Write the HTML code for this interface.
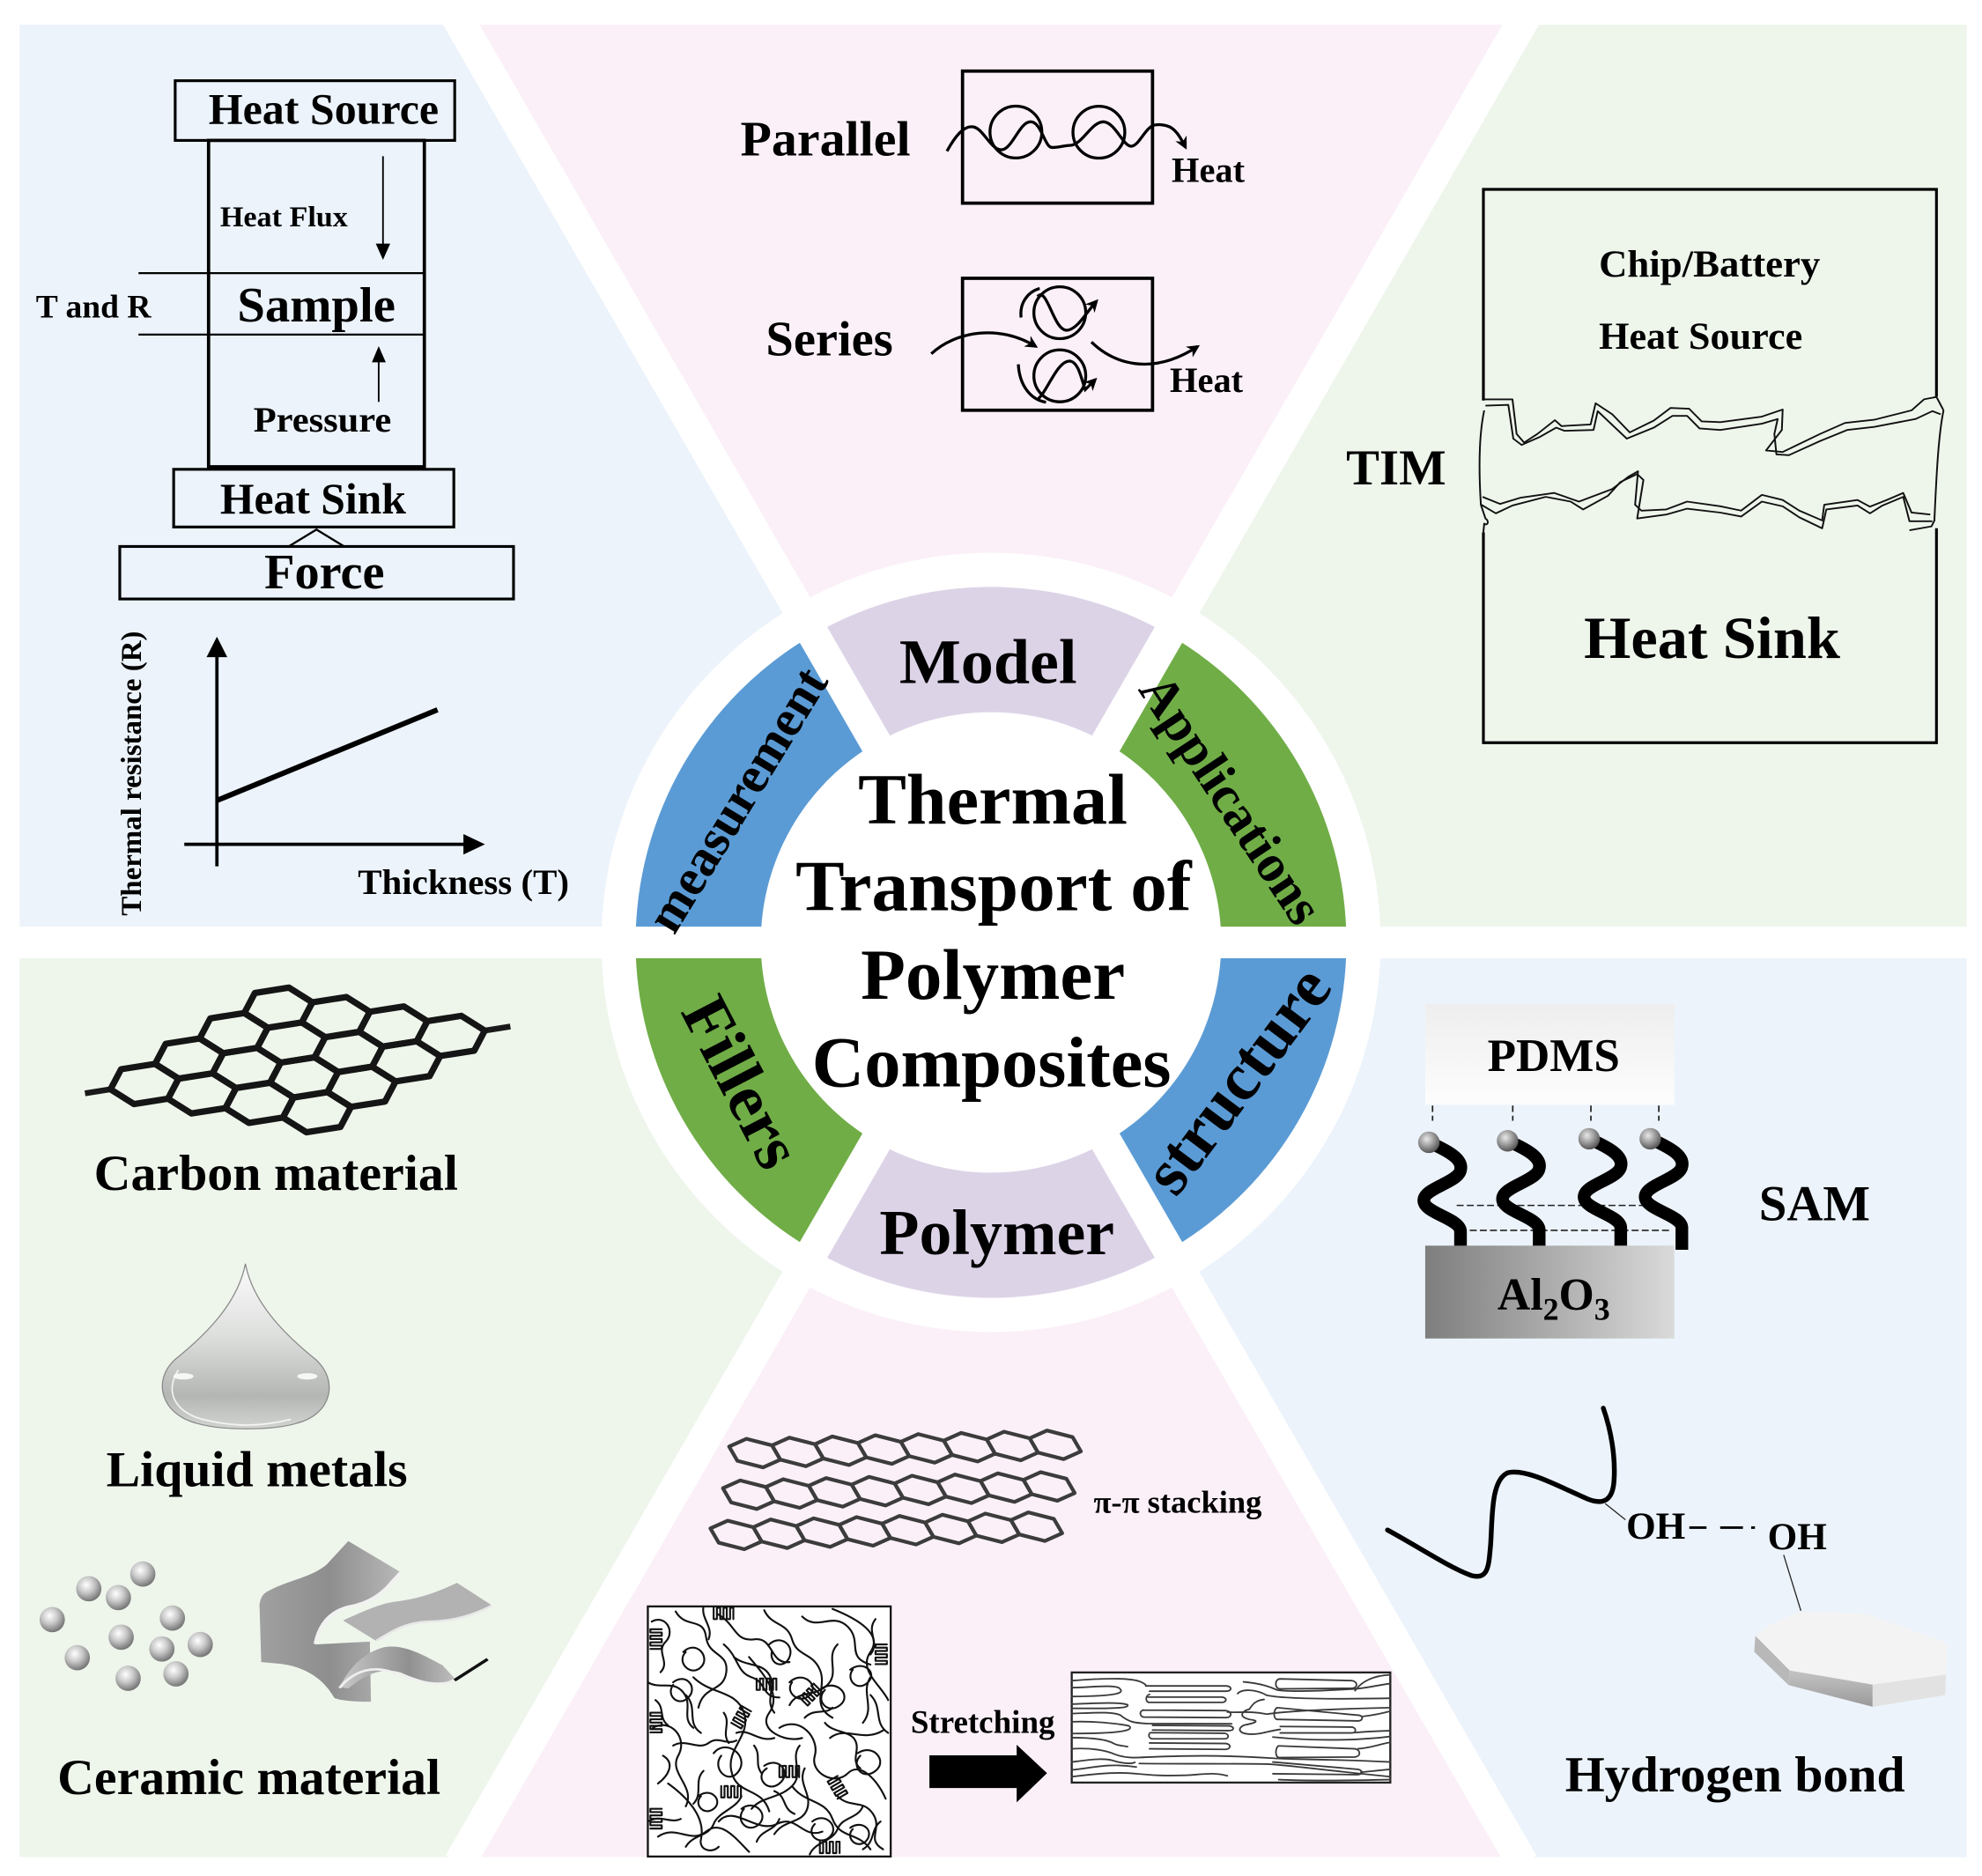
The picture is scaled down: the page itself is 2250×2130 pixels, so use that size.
<!DOCTYPE html>
<html><head><meta charset="utf-8">
<style>
html,body{margin:0;padding:0;background:#fff;width:2250px;height:2130px;overflow:hidden;}
svg{display:block;}
text{font-family:"Liberation Serif","Times New Roman",serif;font-weight:bold;fill:#000;}
</style></head><body>
<svg xmlns="http://www.w3.org/2000/svg" xmlns:xlink="http://www.w3.org/1999/xlink" width="2250" height="2130" viewBox="0 0 1567 1483" preserveAspectRatio="none" overflow="hidden">
<defs>
 <clipPath id="tbox"><rect x="0" y="0" width="192" height="197.7"/></clipPath>
 <marker id="arr" viewBox="0 0 10 10" refX="8" refY="5" markerWidth="10" markerHeight="10" markerUnits="userSpaceOnUse" orient="auto"><path d="M0,0 L10,5 L0,10 L3,5 Z" fill="#000"/></marker>
 <path id="hex" d="M1,0 L0.5,0.866 L-0.5,0.866 L-1,0 L-0.5,-0.866 L0.5,-0.866 Z" vector-effect="non-scaling-stroke"/>
 <path id="phex" d="M0,-1 L0.866,-0.5 L0.866,0.5 L0,1 L-0.866,0.5 L-0.866,-0.5 Z" vector-effect="non-scaling-stroke"/>
 <path id="comb" d="M0,0 v9 h2.6 v-9 h2.6 v9 h2.6 v-9 h2.6 v9 h2.6 v-9 h2.6 v9"/>
 <radialGradient id="sph" cx="0.4" cy="0.35" r="0.7"><stop offset="0" stop-color="#ffffff"/><stop offset="0.45" stop-color="#c8c8c8"/><stop offset="1" stop-color="#6a6a6a"/></radialGradient>
 <radialGradient id="ball" cx="0.4" cy="0.35" r="0.7"><stop offset="0" stop-color="#e8e8e8"/><stop offset="0.5" stop-color="#9a9a9a"/><stop offset="1" stop-color="#4a4a4a"/></radialGradient>
 <linearGradient id="drop" x1="0" y1="0" x2="0" y2="1"><stop offset="0" stop-color="#fbfbfb"/><stop offset="0.45" stop-color="#dcdedc"/><stop offset="0.8" stop-color="#b4b6b4"/><stop offset="1" stop-color="#d2d4d2"/></linearGradient>
 <linearGradient id="pdms" x1="0" y1="0" x2="0" y2="1"><stop offset="0" stop-color="#eeeeee"/><stop offset="1" stop-color="#fdfdfd"/></linearGradient>
 <linearGradient id="al" x1="0" y1="0" x2="1" y2="0"><stop offset="0" stop-color="#7e7e7e"/><stop offset="1" stop-color="#dadada"/></linearGradient>
 <linearGradient id="sheet" x1="0" y1="0" x2="1" y2="0"><stop offset="0" stop-color="#a0a0a0"/><stop offset="0.5" stop-color="#8e8e8e"/><stop offset="1" stop-color="#b8b8b8"/></linearGradient>
 <linearGradient id="sheet2" x1="0" y1="0" x2="1" y2="0"><stop offset="0" stop-color="#c8c8c8"/><stop offset="0.6" stop-color="#909090"/><stop offset="1" stop-color="#bdbdbd"/></linearGradient>
 <linearGradient id="side" x1="0" y1="0" x2="0" y2="1"><stop offset="0" stop-color="#c4c4c4"/><stop offset="1" stop-color="#9a9a9a"/></linearGradient>
</defs>

<rect x="0" y="0" width="1567" height="1483" fill="#ffffff"/>

<!-- background panels -->
<polygon points="783.5,745 15.5,745 15.5,19.5 364.6,19.5" fill="#ecf3fb"/>
<polygon points="783.5,745 364.6,19.5 1202.4,19.5" fill="#fbf0f8"/>
<polygon points="783.5,745 1202.4,19.5 1555,19.5 1555,745" fill="#eef6ec"/>
<polygon points="783.5,745 1555,745 1555,1468 1200.9,1468" fill="#ecf3fb"/>
<polygon points="783.5,745 1200.9,1468 366.1,1468" fill="#fbf0f8"/>
<polygon points="783.5,745 366.1,1468 15.5,1468 15.5,745" fill="#eef6ec"/>

<!-- white disk and ring -->
<circle cx="783.5" cy="745" r="308" fill="#ffffff"/>
<path d="M1064.5,745 A281,281 0 0 0 924,501.65 L874.5,587.38 A182,182 0 0 1 965.5,745 Z" fill="#70ad47"/>
<path d="M924,501.65 A281,281 0 0 0 643,501.65 L692.5,587.38 A182,182 0 0 1 874.5,587.38 Z" fill="#ddd3e7"/>
<path d="M643,501.65 A281,281 0 0 0 502.5,745 L601.5,745 A182,182 0 0 1 692.5,587.38 Z" fill="#5b9bd5"/>
<path d="M502.5,745 A281,281 0 0 0 643,988.35 L692.5,902.62 A182,182 0 0 1 601.5,745 Z" fill="#70ad47"/>
<path d="M643,988.35 A281,281 0 0 0 924,988.35 L874.5,902.62 A182,182 0 0 1 692.5,902.62 Z" fill="#ddd3e7"/>
<path d="M924,988.35 A281,281 0 0 0 1064.5,745 L965.5,745 A182,182 0 0 1 874.5,902.62 Z" fill="#5b9bd5"/>

<!-- white stripes -->
<g stroke="#ffffff" stroke-width="25">
 <line x1="5" y1="745" x2="1562" y2="745"/>
 <line x1="363.2" y1="1473" x2="1207.8" y2="10"/>
 <line x1="1203.8" y1="1473" x2="359.2" y2="10"/>
</g>

<!-- ===== TOP LEFT: measurement ===== -->
<g fill="none" stroke="#000">
 <rect x="138.5" y="63.8" width="221" height="47.2" stroke-width="2.2"/>
 <rect x="164.9" y="111" width="170.6" height="258" stroke-width="2.6"/>
 <line x1="109.5" y1="215.9" x2="335.5" y2="215.9" stroke-width="1.6"/>
 <line x1="109.5" y1="264.5" x2="335.5" y2="264.5" stroke-width="1.6"/>
 <rect x="137.3" y="371" width="221.5" height="45.6" stroke-width="2.2"/>
 <rect x="94.7" y="432" width="311.3" height="41.5" stroke-width="2.2"/>
 <line x1="302.8" y1="123.5" x2="302.8" y2="194" stroke-width="1.3"/>
 <line x1="299.4" y1="285" x2="299.4" y2="317.7" stroke-width="1.3"/>
 <line x1="171.5" y1="518" x2="171.5" y2="684.8" stroke-width="2.6"/>
 <line x1="145.7" y1="667.4" x2="367" y2="667.4" stroke-width="2.6"/>
 <line x1="171.5" y1="632.8" x2="345.9" y2="561.1" stroke-width="4.2"/>
</g>
<polyline points="228.9,431.6 250.2,418.6 271.5,431.6" fill="none" stroke="#000" stroke-width="1.6"/>
<polygon points="297.1,192.6 308.5,192.6 302.8,205.4" fill="#000"/>
<polygon points="294,286.4 305,286.4 299.4,273.6" fill="#000"/>
<polygon points="163.3,519.5 179.7,519.5 171.5,503.3" fill="#000"/>
<polygon points="366.4,659.3 366.4,675.5 383.4,667.4" fill="#000"/>
<text x="164.9" y="97.9" font-size="35" textLength="182" lengthAdjust="spacingAndGlyphs">Heat Source</text>
<text x="174" y="179" font-size="23" textLength="101" lengthAdjust="spacingAndGlyphs">Heat Flux</text>
<text x="187.6" y="254.3" font-size="39" textLength="125" lengthAdjust="spacingAndGlyphs">Sample</text>
<text x="28.4" y="250.9" font-size="26" textLength="91" lengthAdjust="spacingAndGlyphs">T and R</text>
<text x="200.4" y="341" font-size="28" textLength="109" lengthAdjust="spacingAndGlyphs">Pressure</text>
<text x="174" y="405.8" font-size="35" textLength="147" lengthAdjust="spacingAndGlyphs">Heat Sink</text>
<text x="209" y="465" font-size="39" textLength="95" lengthAdjust="spacingAndGlyphs">Force</text>
<text x="282.9" y="706.8" font-size="28" textLength="167" lengthAdjust="spacingAndGlyphs">Thickness (T)</text>
<text transform="translate(111.5,611.4) rotate(-90)" text-anchor="middle" font-size="23" textLength="225" lengthAdjust="spacingAndGlyphs">Thermal resistance (R)</text>

<!-- ===== TOP MIDDLE: model ===== -->
<g fill="none" stroke="#000" stroke-width="2.6">
 <rect x="761" y="56.2" width="150.2" height="104.4"/>
 <rect x="761" y="220" width="150.2" height="104.3"/>
</g>
<g fill="none" stroke="#000" stroke-width="2.3">
 <circle cx="803.2" cy="104.4" r="20.5"/>
 <circle cx="868.8" cy="104.5" r="20.5"/>
 <path d="M748.7,119.5 C755,108 762,99 769.3,100.3 C777,101 783,118 791.4,118.4 C800,119 806,96 814.8,96.3 C823,96 826,116 831.3,116.5 C836,117 841,115 846.4,114.9 C856,114 863,96 872.6,96.3 C882,97 888,116 894.6,115.6 C901,115 906,99 913.9,98.7 C918,98 920,99 922.2,99.4 C929,101 933,108 937.3,116.5" marker-end="url(#arr)"/>
 <circle cx="837.9" cy="247.2" r="20.5"/>
 <circle cx="837.9" cy="297.1" r="20.5"/>
 <path d="M820.3,234.4 C828,226 833,262 843.7,261.1 C852,260 858,248 867,238" marker-end="url(#arr)"/>
 <path d="M807.3,251 C806,240 812,231 822,228"/>
 <path d="M805.1,288 C806,305 815,316 827,318"/>
 <path d="M820.3,315.7 C828,310 836,284 846.4,285.5 C853,287 855,300 858,308 L866,300" marker-end="url(#arr)"/>
 <path d="M736.3,279.7 C755,262 790,256 818.9,273.9" marker-end="url(#arr)"/>
 <path d="M862.9,270.4 C880,287 910,298 946.9,273.9" marker-end="url(#arr)"/>
</g>
<text x="585.4" y="123" font-size="39" textLength="134.4" lengthAdjust="spacingAndGlyphs">Parallel</text>
<text x="926.3" y="143.9" font-size="28" textLength="57.8" lengthAdjust="spacingAndGlyphs">Heat</text>
<text x="605.5" y="280.9" font-size="39" textLength="100.5" lengthAdjust="spacingAndGlyphs">Series</text>
<text x="924.9" y="309.9" font-size="28" textLength="57.9" lengthAdjust="spacingAndGlyphs">Heat</text>

<!-- ===== TOP RIGHT: applications ===== -->
<path d="M1172.8,316.6 L1172.8,149.7 L1531,149.7 L1531,313.5 M1172.8,420.8 L1172.8,587.1 L1531,587.1 L1531,417.6" fill="none" stroke="#000" stroke-width="2.2"/>
<g transform="translate(1044.6,125.4) scale(0.32866,0.3109)" fill="none" stroke="#111" stroke-width="4.2" stroke-linejoin="round">
 <path d="M392,612 L460,612 L470,700 L488,722 L520,700 L562,665 L578,680 L648,676 L660,622 L700,650 L742,696 L800,666 L840,634 L885,636 L915,668 L960,670 L1060,656 L1110,638 L1108,690 L1070,742 L1110,746 L1200,700 L1260,672 L1330,664 L1420,640 L1450,612 L1480,606 L1497,640"/>
 <path d="M395,628 L450,626 L462,712 L482,728 L525,708 L565,684 L585,692 L655,690 L665,642 L735,712 L800,684 L845,654 L880,654 L910,686 L960,690 L1060,674 L1098,662 L1090,700 L1095,752 L1125,754 L1200,718 L1265,690 L1330,682 L1430,662 L1470,642 L1490,650"/>
 <path d="M385,880 L420,902 L460,882 L540,860 L600,872 L630,892 L690,857 L720,822 L760,802 L775,817 L760,915 L830,905 L880,890 L960,900 L1010,910 L1060,872 L1110,884 L1150,912 L1205,940 L1215,892 L1290,882 L1320,902 L1350,882 L1400,860 L1415,922 L1470,922"/>
 <path d="M388,860 L430,878 L480,862 L560,850 L620,872 L700,840 L740,808 L762,795 L755,880 L770,895 L830,892 L880,872 L960,884 L1010,895 L1060,855 L1110,868 L1150,895 L1205,920 L1210,880 L1290,868 L1320,885 L1360,868 L1400,850 L1420,900 L1465,905"/>
 <path d="M392,640 C380,700 378,780 384,880 L395,915 C405,922 400,935 392,928 L390,950"/>
 <path d="M1497,640 C1485,700 1480,800 1475,920 L1468,935 L1415,945"/>
</g>
<text x="1264.1" y="218.7" font-size="30" textLength="175" lengthAdjust="spacingAndGlyphs">Chip/Battery</text>
<text x="1264.1" y="275.6" font-size="30" textLength="161" lengthAdjust="spacingAndGlyphs">Heat Source</text>
<text x="1252.3" y="520.2" font-size="47" textLength="202.5" lengthAdjust="spacingAndGlyphs">Heat Sink</text>
<text x="1064.3" y="382.8" font-size="40" textLength="79" lengthAdjust="spacingAndGlyphs">TIM</text>

<!-- ===== CENTER labels ===== -->
<text x="781.2" y="539.8" font-size="50" text-anchor="middle" textLength="140.5" lengthAdjust="spacingAndGlyphs">Model</text>
<text x="788.2" y="991.5" font-size="51" text-anchor="middle" textLength="185.7" lengthAdjust="spacingAndGlyphs">Polymer</text>
<text transform="translate(586.2,634.2) rotate(-58.7)" x="0" y="9.5" font-size="41" text-anchor="middle">measurement</text>
<text transform="translate(971.8,632.8) rotate(56.5)" x="0" y="12" font-size="42" text-anchor="middle">Applications</text>
<text transform="translate(584.2,856.7) rotate(62.6)" x="0" y="15" font-size="53" text-anchor="middle">Fillers</text>
<text transform="translate(982.6,857) rotate(-53.1)" x="0" y="12" font-size="53" text-anchor="middle">structure</text>
<g font-size="57" text-anchor="middle">
 <text x="784.9" y="651" textLength="213" lengthAdjust="spacingAndGlyphs">Thermal</text>
 <text x="785.5" y="719.7" textLength="313" lengthAdjust="spacingAndGlyphs">Transport of</text>
 <text x="785" y="789.6" textLength="209" lengthAdjust="spacingAndGlyphs">Polymer</text>
 <text x="783.9" y="858.8" textLength="284" lengthAdjust="spacingAndGlyphs">Composites</text>
</g>

<!-- ===== BOTTOM LEFT: fillers ===== -->
<line x1="67.2" y1="864.3" x2="87.4" y2="861.1" stroke="#1a1a1a" stroke-width="4.6"/>
<line x1="383.3" y1="814.7" x2="403.5" y2="811.5" stroke="#1a1a1a" stroke-width="4.6"/>
<g transform="matrix(26.90,-4.221,5.882,15.90,114.28,856.9)" fill="none" stroke="#151515" stroke-width="7.2" stroke-linejoin="round">
 <use xlink:href="#hex" x="0" y="0"/><use xlink:href="#hex" x="1.5" y="-0.866"/><use xlink:href="#hex" x="3" y="-1.732"/><use xlink:href="#hex" x="4.5" y="-2.598"/>
 <use xlink:href="#hex" x="1.5" y="0.866"/><use xlink:href="#hex" x="3" y="0"/><use xlink:href="#hex" x="4.5" y="-0.866"/><use xlink:href="#hex" x="6" y="-1.732"/>
 <use xlink:href="#hex" x="3" y="1.732"/><use xlink:href="#hex" x="4.5" y="0.866"/><use xlink:href="#hex" x="6" y="0"/><use xlink:href="#hex" x="7.5" y="-0.866"/>
 <use xlink:href="#hex" x="4.5" y="2.598"/><use xlink:href="#hex" x="6" y="1.732"/><use xlink:href="#hex" x="7.5" y="0.866"/><use xlink:href="#hex" x="9" y="0"/>
</g>
<text x="74.3" y="940.8" font-size="40" textLength="287.8" lengthAdjust="spacingAndGlyphs">Carbon material</text>

<path d="M194,999 C200,1030 225,1055 250,1075 C268,1092 262,1118 235,1125 C215,1131 175,1131 155,1125 C128,1118 120,1092 138,1075 C163,1055 188,1030 194,999 Z" fill="url(#drop)" stroke="#8a8a8a" stroke-width="0.9"/>
<path d="M141,1083 C130,1100 138,1116 160,1122 C185,1128 205,1128 230,1122" fill="none" stroke="#f4f4f4" stroke-width="1.2"/>
<ellipse cx="145" cy="1088" rx="8" ry="2.5" fill="#ffffff" opacity="0.85"/>
<ellipse cx="243" cy="1088" rx="8" ry="2.5" fill="#ffffff" opacity="0.85"/>
<text x="84" y="1174.9" font-size="40" textLength="238.2" lengthAdjust="spacingAndGlyphs">Liquid metals</text>

<g fill="url(#sph)">
 <circle cx="112.9" cy="1244.3" r="10"/><circle cx="70.2" cy="1255.9" r="10"/><circle cx="93.6" cy="1262.9" r="10"/>
 <circle cx="41.3" cy="1280.3" r="10"/><circle cx="136.3" cy="1279.1" r="10"/><circle cx="95.8" cy="1294.2" r="10"/>
 <circle cx="128" cy="1303.5" r="10"/><circle cx="158.3" cy="1300" r="10"/><circle cx="61.1" cy="1310.4" r="10"/>
 <circle cx="139.1" cy="1323.2" r="10"/><circle cx="101.3" cy="1326.7" r="10"/>
</g>
<g transform="translate(0,1176.96) scale(0.27537,0.23214)">
 <path d="M745,395 C748,370 755,355 775,345 C830,310 900,300 940,255 L1000,178 L1148,282 C1110,320 1090,375 1040,392 C990,405 940,420 920,470 L905,530 L1062,520 L1065,725 C1010,725 975,720 960,712 C930,650 880,605 800,595 L750,590 Z" fill="url(#sheet)"/>
 <path d="M905,528 C915,470 940,420 1000,402 C1060,390 1100,360 1150,285" fill="none" stroke="#f2f2f2" stroke-width="10"/>
 <path d="M985,448 C1030,425 1080,395 1130,385 C1200,375 1250,355 1312,320 L1410,395 C1360,430 1300,450 1230,450 C1160,455 1120,490 1080,518 Z" fill="#b2b2b2"/>
 <path d="M1080,518 C1120,490 1160,455 1230,452 C1300,452 1360,430 1412,398" fill="none" stroke="#e8e8e8" stroke-width="8"/>
 <path d="M975,675 C1000,615 1040,560 1100,540 C1160,525 1220,570 1270,600 L1305,645 C1260,680 1200,650 1150,625 C1090,605 1040,640 1000,680 Z" fill="url(#sheet2)"/>
 <path d="M975,678 C1000,640 1040,610 1090,615 C1160,625 1220,685 1305,655" fill="none" stroke="#efefef" stroke-width="8"/>
 <line x1="1305" y1="652" x2="1400" y2="580" stroke="#111" stroke-width="10"/>
</g>
<text x="45.4" y="1418.4" font-size="40" textLength="302.9" lengthAdjust="spacingAndGlyphs">Ceramic material</text>

<!-- ===== BOTTOM MIDDLE: polymer ===== -->
<g fill="none" stroke="#3c3c3c" stroke-width="4.2" stroke-linejoin="round">
 <g transform="matrix(19.6,-0.54,6.57,11.3,596.7,1148.7)">
  <use xlink:href="#phex" x="0"/><use xlink:href="#phex" x="1.732"/><use xlink:href="#phex" x="3.464"/><use xlink:href="#phex" x="5.196"/><use xlink:href="#phex" x="6.928"/><use xlink:href="#phex" x="8.66"/><use xlink:href="#phex" x="10.392"/><use xlink:href="#phex" x="12.124"/>
 </g>
 <g transform="matrix(19.6,-0.54,6.57,11.3,591.8,1181.6)">
  <use xlink:href="#phex" x="0"/><use xlink:href="#phex" x="1.732"/><use xlink:href="#phex" x="3.464"/><use xlink:href="#phex" x="5.196"/><use xlink:href="#phex" x="6.928"/><use xlink:href="#phex" x="8.66"/><use xlink:href="#phex" x="10.392"/><use xlink:href="#phex" x="12.124"/>
 </g>
 <g transform="matrix(19.6,-0.54,6.57,11.3,581.9,1213.4)">
  <use xlink:href="#phex" x="0"/><use xlink:href="#phex" x="1.732"/><use xlink:href="#phex" x="3.464"/><use xlink:href="#phex" x="5.196"/><use xlink:href="#phex" x="6.928"/><use xlink:href="#phex" x="8.66"/><use xlink:href="#phex" x="10.392"/><use xlink:href="#phex" x="12.124"/>
 </g>
</g>
<text x="864.6" y="1195.7" font-size="25" textLength="133" lengthAdjust="spacingAndGlyphs">π-π stacking</text>

<g transform="translate(512.2,1269.9)">
 <rect x="0" y="0" width="192" height="197.7" fill="#ffffff" stroke="#111" stroke-width="1.6"/>
 <g clip-path="url(#tbox)" fill="none" stroke="#111" stroke-width="1.5" stroke-linecap="round" stroke-linejoin="round">
  <path d="M3,12 C14,6 22,20 14,28 C6,36 18,44 10,52"/>
  <path d="M22,4 C30,18 44,8 46,24 C48,40 64,36 62,52 C60,68 44,62 40,80"/>
  <path d="M55,6 C70,14 68,28 84,26 C100,24 96,46 112,44"/>
  <path d="M92,3 C98,16 110,12 114,26 C118,40 130,36 136,50 C142,64 128,78 146,88"/>
  <path d="M122,8 C134,20 146,4 158,16 C170,28 156,40 176,46"/>
  <path d="M146,2 C166,10 186,22 176,36 C166,50 184,62 190,74"/>
  <path d="M4,96 C18,88 32,104 24,118 C16,132 38,142 30,158"/>
  <path d="M36,56 C50,70 70,66 76,84 C82,102 62,112 66,130 C70,150 90,142 96,162"/>
  <path d="M80,40 C92,54 106,70 96,84 C86,98 110,108 122,104"/>
  <path d="M104,96 C120,86 136,104 132,118 C128,132 148,142 158,132 C168,122 182,138 188,152"/>
  <path d="M16,140 C30,150 46,166 42,184 C40,192 50,196 56,190"/>
  <path d="M56,170 C68,156 86,180 102,172 C118,164 122,184 138,178"/>
  <path d="M114,142 C124,156 140,152 146,168 C152,184 166,178 176,192"/>
  <path d="M144,104 C156,94 170,108 186,98"/>
  <path d="M52,116 C62,104 80,118 72,130 C64,142 50,128 58,118"/>
  <path d="M136,66 C148,56 162,70 152,78 C142,86 132,74 140,66"/>
  <path d="M28,36 C38,26 50,40 42,48 C34,56 22,44 30,36"/>
  <path d="M92,126 C104,118 114,132 104,140 C94,148 84,134 94,128"/>
  <path d="M166,116 C178,108 190,122 180,130 C170,138 160,126 168,118"/>
  <path d="M8,182 C22,172 34,188 46,178 C58,168 70,184 80,194"/>
  <path d="M150,150 C160,160 170,152 178,164 C186,176 172,184 186,192"/>
  <path d="M60,30 C72,40 70,52 82,56 C94,60 90,72 104,72"/>
  <path d="M100,180 C108,168 122,172 126,160 C130,148 118,140 124,128"/>
  <path d="M176,56 C168,68 180,80 170,92"/>
  <path d="M30,70 C40,80 30,92 42,100"/>
  <path d="M112,60 C122,50 136,62 128,70 C120,78 108,68 114,60"/>
  <path d="M70,100 C80,96 88,108 100,104"/>
  <path d="M12,118 C22,124 16,134 8,140"/>
  <path d="M160,175 C170,168 180,178 172,186 C164,192 156,182 162,176"/>
  <path d="M40,150 C50,142 60,154 52,160 C44,166 36,156 42,150"/>
  <path d="M0,60 C10,66 20,58 28,68 C36,78 26,88 36,96"/>
  <path d="M44,0 C42,10 52,16 48,26"/>
  <path d="M68,40 C78,48 90,44 96,54 C102,64 92,74 100,84"/>
  <path d="M150,30 C140,40 152,52 142,62 C132,72 118,66 112,78"/>
  <path d="M176,70 C186,80 178,92 190,100"/>
  <path d="M120,110 C112,120 124,132 114,142 C104,152 90,150 82,160"/>
  <path d="M20,110 C30,104 40,114 48,108 C56,102 62,110 70,106"/>
  <path d="M0,170 C10,164 18,172 26,168"/>
  <path d="M30,190 C36,180 48,182 52,172 C56,162 70,160 74,150"/>
  <path d="M86,186 C90,176 100,178 104,168"/>
  <path d="M128,196 C132,186 146,186 150,176 C154,166 166,168 170,158"/>
  <path d="M184,170 C176,176 180,186 170,192"/>
  <path d="M60,84 C66,92 58,100 64,108"/>
  <path d="M140,92 C146,100 160,98 164,106 C168,114 160,122 168,128"/>
  <path d="M96,30 C104,22 116,30 112,40 C108,50 96,46 98,36"/>
  <path d="M160,50 C170,42 182,52 174,60 C166,68 156,58 162,50"/>
  <path d="M20,60 C30,52 40,64 32,72 C24,80 14,70 20,62"/>
  <path d="M74,160 C84,152 96,164 88,172 C80,180 68,170 76,160"/>
  <path d="M130,170 C140,162 152,174 144,182 C136,190 124,180 132,172"/>
  <path d="M44,130 C36,138 44,148 36,156"/>
  <path d="M180,10 C172,20 184,28 176,38"/>
  <path d="M6,74 C14,80 8,88 16,94"/>
  <path d="M100,146 C110,150 106,160 116,164"/>
  <path d="M124,88 C132,80 140,86 146,80"/>
  <path d="M84,110 C90,118 84,124 90,132"/>
  <use xlink:href="#comb" transform="translate(11,18) rotate(90)"/>
  <use xlink:href="#comb" transform="translate(52,1)"/>
  <use xlink:href="#comb" transform="translate(86,57)"/>
  <use xlink:href="#comb" transform="translate(66,92) rotate(-60)"/>
  <use xlink:href="#comb" transform="translate(120,72) rotate(-45)"/>
  <use xlink:href="#comb" transform="translate(11,84) rotate(90)"/>
  <use xlink:href="#comb" transform="translate(104,126)"/>
  <use xlink:href="#comb" transform="translate(58,142)"/>
  <use xlink:href="#comb" transform="translate(11,160) rotate(90)"/>
  <use xlink:href="#comb" transform="translate(150,134) rotate(60)"/>
  <use xlink:href="#comb" transform="translate(136,186)"/>
  <use xlink:href="#comb" transform="translate(189,30) rotate(90)"/>
 </g>
</g>
<text x="720" y="1369.9" font-size="25.5" textLength="114" lengthAdjust="spacingAndGlyphs">Stretching</text>
<polygon points="734.8,1387.6 803.8,1387.6 803.8,1379.3 827.8,1401.7 803.8,1424.8 803.8,1413.5 734.8,1413.5" fill="#000"/>

<g transform="translate(839.2,1312.8) scale(0.23214)" fill="none" stroke="#3a3a3a" stroke-width="5.5" stroke-linecap="round">
 <rect x="35" y="40" width="1085" height="375" fill="#ffffff" stroke="#222" stroke-width="7"/>
 <path d="M290,86 L560,86 C582,86 582,104 560,104 L300,104"/>
 <path d="M295,124 L545,124 C565,124 565,142 545,142 L300,142 C285,142 285,118 300,115"/>
 <path d="M280,168 L560,170 C582,172 582,194 560,194 L280,192 C265,190 265,170 280,168"/>
 <path d="M310,220 L570,222 C590,224 590,238 570,238 L310,236"/>
 <path d="M305,245 L555,247 C572,250 572,266 555,266 L310,266 C295,266 295,245 305,245"/>
 <path d="M300,280 L560,282 C578,285 578,300 560,302 L300,300"/>
 <path d="M745,62 L990,68 C1010,72 1010,92 990,94 L745,96 C725,96 725,62 745,62"/>
 <path d="M735,160 L1015,186 C1030,190 1025,205 1010,205 L735,200 C720,198 722,165 735,160"/>
 <path d="M745,224 L990,226 C1005,230 1005,245 990,246 L745,246"/>
 <path d="M740,290 L1000,300 C1020,305 1020,325 1000,328 L740,330 C725,325 730,292 740,290"/>
 <path d="M720,345 L1010,370 C1030,375 1025,388 1005,388 L720,385"/>
 <path d="M35,68 C110,62 230,55 270,72 C300,86 280,86 290,86"/>
 <path d="M35,92 C110,90 170,82 195,92 C215,108 210,120 35,122"/>
 <path d="M35,148 C110,145 200,140 225,150 C232,160 200,164 35,162"/>
 <path d="M35,180 C100,178 170,172 200,185 C230,210 250,212 290,214 L580,215"/>
 <path d="M35,208 C100,205 180,212 230,222 C250,238 200,248 35,248"/>
 <path d="M35,262 C110,262 160,270 180,283 C195,290 215,290 225,293"/>
 <path d="M35,300 C100,296 150,305 180,318 C220,334 260,330 300,328 C420,324 520,320 720,332 C800,338 900,334 1120,345"/>
 <path d="M35,345 C90,338 140,330 175,340 C205,350 240,352 250,346"/>
 <path d="M35,372 C80,368 110,360 160,357 C200,355 230,358 255,362"/>
 <path d="M35,395 C90,388 150,382 200,382 C260,382 300,395 430,390 C490,386 520,380 565,392"/>
 <path d="M265,350 C400,352 600,350 700,352 C760,354 820,365 1120,395"/>
 <path d="M620,72 C680,78 710,88 735,100 C780,108 900,102 1000,96 C1050,92 1080,82 1120,78"/>
 <path d="M600,112 C615,96 660,96 700,118 C760,130 900,132 1120,128"/>
 <path d="M690,132 C660,135 650,150 640,165 C615,172 600,190 640,200 C680,205 660,212 620,220 C598,232 605,248 640,250 C680,252 700,240 745,234"/>
 <path d="M565,175 C600,178 640,170 700,182 C760,172 900,165 1120,160"/>
 <path d="M1000,245 C1050,240 1090,240 1120,238"/>
 <path d="M1010,300 C1060,296 1090,282 1120,278"/>
 <path d="M1025,190 C1060,186 1090,180 1120,172"/>
 <path d="M1000,102 C1030,60 1080,50 1120,48"/>
 <path d="M720,260 C800,268 900,272 1000,268 C1060,265 1090,262 1120,258"/>
 <path d="M740,405 C800,408 900,410 1120,405"/>
 <path d="M1020,380 C1060,376 1090,372 1120,370"/>
</g>

<!-- ===== BOTTOM RIGHT: structure ===== -->
<rect x="1126.8" y="793.9" width="197" height="79.4" fill="url(#pdms)"/>
<text x="1176" y="846.8" font-size="37" textLength="104.7" lengthAdjust="spacingAndGlyphs">PDMS</text>
<g stroke="#222" stroke-width="1.2" stroke-dasharray="5,3">
 <line x1="1132.6" y1="874" x2="1132.6" y2="886"/>
 <line x1="1196" y1="874" x2="1196" y2="886"/>
 <line x1="1257.8" y1="874" x2="1257.8" y2="886"/>
 <line x1="1311.5" y1="874" x2="1311.5" y2="886"/>
</g>
<g stroke="#222" stroke-width="1.1" stroke-dasharray="5.5,2.5">
 <line x1="1151.7" y1="952.9" x2="1299.7" y2="952.9"/>
 <line x1="1162" y1="972.6" x2="1320.3" y2="972.6"/>
</g>
<g fill="none" stroke="#000" stroke-width="10">
 <path d="M1129.7,903 C1147.7,911 1156.7,917 1154.7,925 C1152.7,935 1125.7,939 1125.7,949 C1125.7,959 1153.7,963 1154.7,973 L1154.7,986"/>
 <path d="M1191.9,901.8 C1209.9,909.8 1218.9,915.8 1216.9,923.8 C1214.9,933.8 1187.9,937.8 1187.9,947.8 C1187.9,957.8 1215.9,961.8 1216.9,971.8 L1216.9,986"/>
 <path d="M1256.4,900.2 C1274.4,908.2 1283.4,914.2 1281.4,922.2 C1279.4,932.2 1252.4,936.2 1252.4,946.2 C1252.4,956.2 1280.4,960.2 1281.4,970.2 L1281.4,986"/>
 <path d="M1304.7,900.2 C1322.7,908.2 1331.7,914.2 1329.7,922.2 C1327.7,932.2 1300.7,936.2 1300.7,946.2 C1300.7,956.2 1328.7,960.2 1329.7,970.2 L1329.7,988"/>
</g>
<g fill="url(#ball)">
 <circle cx="1129.7" cy="903" r="8.5"/><circle cx="1191.9" cy="901.8" r="8.5"/><circle cx="1256.4" cy="900.2" r="8.5"/><circle cx="1304.7" cy="900.2" r="8.5"/>
</g>
<rect x="1126.8" y="984.7" width="197" height="73.4" fill="url(#al)"/>
<text x="1183.9" y="1035.3" font-size="36">Al<tspan font-size="25" dy="8">2</tspan><tspan font-size="36" dy="-8">O</tspan><tspan font-size="25" dy="8">3</tspan></text>
<text x="1390.6" y="964.5" font-size="40" textLength="88" lengthAdjust="spacingAndGlyphs">SAM</text>

<path d="M1097,1209.5 C1122.6,1223.4 1146.8,1239.7 1163.4,1245.5 C1177,1249 1177,1237.4 1178.5,1221.1 C1180,1200.2 1178.5,1170 1192.1,1164.2 C1207.2,1160.8 1231.4,1174.7 1255.5,1185.1 C1267.6,1189.8 1275.2,1186.3 1276.1,1170 C1277.3,1151.5 1273.7,1130.6 1267.6,1113.2" fill="none" stroke="#000" stroke-width="3.8" stroke-linecap="round"/>
<line x1="1269.1" y1="1188.6" x2="1285.1" y2="1201.4" stroke="#222" stroke-width="0.9"/>
<line x1="1410.2" y1="1229.2" x2="1423.8" y2="1273.3" stroke="#222" stroke-width="0.9"/>
<text x="1285.7" y="1216.5" font-size="30" textLength="46.8" lengthAdjust="spacingAndGlyphs">OH</text>
<text x="1397.5" y="1224.6" font-size="30" textLength="46.8" lengthAdjust="spacingAndGlyphs">OH</text>
<g stroke="#000" stroke-width="2">
 <line x1="1335.6" y1="1207.6" x2="1349.2" y2="1207.6"/>
 <line x1="1360" y1="1207.6" x2="1378" y2="1207.6"/>
 <line x1="1384.5" y1="1207.6" x2="1387.5" y2="1207.6"/>
</g>
<g transform="translate(1086.4,1100.4) scale(0.30202,0.23214)">
 <path d="M998,830 L1088,948 L1085,998 L995,885 Z" fill="#b8b8b8"/>
 <path d="M1088,948 L1305,996 L1305,1072 L1085,998 Z" fill="url(#side)"/>
 <path d="M1305,996 L1497,962 L1495,1032 L1305,1072 Z" fill="#e2e2e2"/>
 <path d="M998,830 L1040,790 L1115,748 L1290,755 L1500,855 L1497,962 L1305,996 L1088,948 Z" fill="#f3f3f3"/>
</g>
<text x="1237.4" y="1416.1" font-size="40" textLength="268.8" lengthAdjust="spacingAndGlyphs">Hydrogen bond</text>
</svg>
</body></html>
